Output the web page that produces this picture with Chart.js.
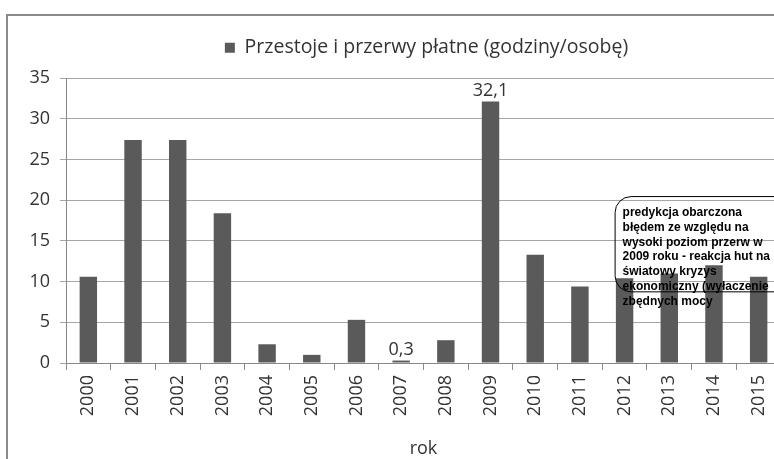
<!DOCTYPE html>
<html>
<head>
<meta charset="utf-8">
<script src="https://cdn.jsdelivr.net/npm/chart.js@4"></script>
<style>
html, body { margin: 0; padding: 0; background: #fff; overflow: hidden; width: 774px; height: 459px; }
#frame { position: absolute; left: 6px; top: 14px; border: 2px solid #8a8a8a; width: 838px; height: 460px; }
</style>
</head>
<body>
<div id="frame"><canvas id="chart" width="838" height="460"></canvas></div>
<script>
// data
const years = ['2000', '2001', '2002', '2003', '2004', '2005', '2006', '2007',
               '2008', '2009', '2010', '2011', '2012', '2013', '2014', '2015'];
const hours = [10.6, 27.4, 27.4, 18.4, 2.3, 1.0, 5.3, 0.3, 2.8, 32.1, 13.3, 9.4, 10.4, 11.0, 12.0, 10.6];
const labelledYears = ['2007', '2009'];   // bars with a value shown above
const seriesName = 'Przestoje i przerwy płatne (godziny/osobę)';
const axisTitle = 'rok';
const yMax = 35;
const yStep = 5;
const noteLines = [
    'predykcja obarczona',
    'błędem ze względu na',
    'wysoki poziom przerw w',
    '2009 roku - reakcja hut na',
    'światowy kryzys',
    'ekonomiczny (wyłaczenie',
    'zbędnych mocy'
];

Chart.defaults.font.family = '"Open Sans", sans-serif';
Chart.defaults.color = '#333';

// fixed height for the legend band, nudged a bit to the right like in the original
const legendSpace = {
    id: 'legendSpace',
    beforeInit(chart) {
        const fit = chart.legend.fit;
        chart.legend.fit = function () {
            fit.call(this);
            this.height = 50;
        };
    },
    afterLayout(chart) {
        chart.legend.left += 32;
        chart.legend.right += 32;
    }
};

// values above selected bars, decimal comma
const valueLabels = {
    id: 'valueLabels',
    afterDatasetsDraw(chart) {
        const ctx = chart.ctx;
        const meta = chart.getDatasetMeta(0);
        ctx.save();
        ctx.font = '18px "Open Sans"';
        ctx.fillStyle = '#333';
        ctx.textAlign = 'center';
        ctx.textBaseline = 'alphabetic';
        years.forEach((y, i) => {
            if (!labelledYears.includes(y)) return;
            const bar = meta.data[i];
            ctx.fillText(hours[i].toFixed(1).replace('.', ','), bar.x, bar.y - 6);
        });
        ctx.restore();
    }
};

// rounded note box, anchored on the scales
const noteBox = {
    id: 'noteBox',
    afterDatasetsDraw(chart) {
        const { ctx, scales: { x, y } } = chart;
        const left = x.getPixelForValue(12) - 10;
        const top = y.getPixelForValue(20.5);
        const bottom = y.getPixelForValue(8.8);
        const right = left + 190;
        ctx.save();
        ctx.strokeStyle = '#000';
        ctx.lineWidth = 1;
        ctx.beginPath();
        ctx.roundRect(left + 0.5, top + 0.5, right - left, bottom - top, 16);
        ctx.stroke();
        ctx.font = 'bold 12px "Liberation Sans", Arial, sans-serif';
        ctx.fillStyle = '#000';
        ctx.textBaseline = 'middle';
        noteLines.forEach((line, i) => {
            ctx.fillText(line, left + 8, top + 17 + i * 14.7);
        });
        ctx.restore();
    }
};

new Chart(document.getElementById('chart'), {
    type: 'bar',
    data: {
        labels: years,
        datasets: [{
            label: seriesName,
            data: hours,
            backgroundColor: '#5a5a5a',
            categoryPercentage: 1,
            barPercentage: 0.39
        }]
    },
    options: {
        responsive: false,
        animation: false,
        layout: { padding: { top: 12, left: 0, right: 65, bottom: 0 } },
        plugins: {
            legend: {
                position: 'top',
                labels: {
                    boxWidth: 10,
                    boxHeight: 10,
                    color: '#333',
                    font: { size: 19.5 }
                }
            },
            tooltip: { enabled: false }
        },
        scales: {
            x: {
                afterFit(scale) { scale.height = 113; },
                grid: { drawOnChartArea: false, drawTicks: true, tickLength: 7, color: '#888', offset: true },
                border: { color: '#888' },
                ticks: { minRotation: 90, maxRotation: 90, padding: 5, font: { size: 18 }, color: '#333' },
                title: { display: true, text: axisTitle, font: { size: 18 }, color: '#333', padding: { top: 0, bottom: 16 } }
            },
            y: {
                min: 0,
                max: yMax,
                afterFit(scale) { scale.width = 58; },
                grid: { color: '#a6a6a6', tickLength: 6 },
                border: { color: '#888' },
                ticks: { stepSize: yStep, padding: 10, font: { size: 18 }, color: '#333' }
            }
        }
    },
    plugins: [legendSpace, valueLabels, noteBox]
});
</script>
</body>
</html>
